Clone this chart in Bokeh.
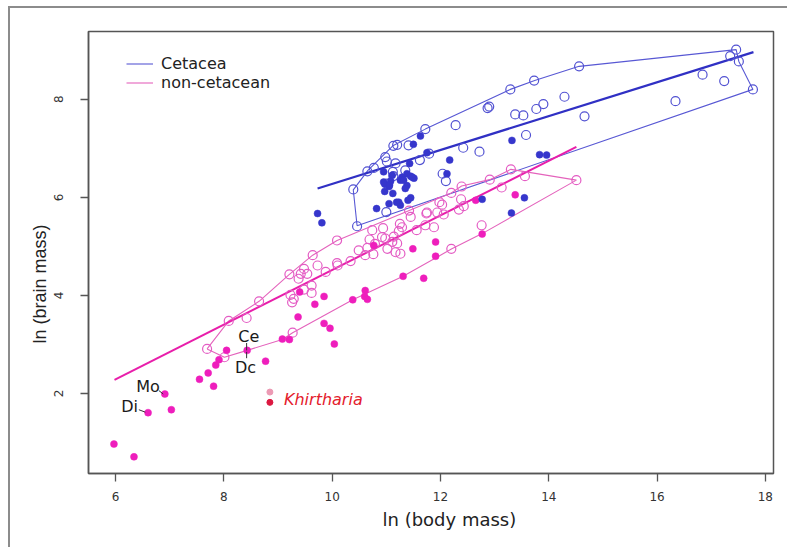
from bokeh.plotting import figure
from bokeh.models import Range1d, FixedTicker, Legend, LegendItem, Title
from bokeh.core.properties import value
from bokeh.embed import file_html
from bokeh.resources import INLINE

# ---------------- data ----------------
cet_open_x = [17.46, 17.35, 17.51, 17.77, 16.84, 17.24, 16.34, 14.56, 13.73, 13.29, 14.29,
              12.87, 12.90, 13.38, 13.53, 13.77, 13.90, 14.66, 13.58, 12.72, 12.28, 11.72,
              11.41, 11.13, 11.20, 12.42, 10.98, 11.01, 11.17, 11.62, 10.65, 10.77, 11.12,
              11.35, 12.04, 12.10, 10.39, 11.00, 10.46, 11.79, 11.13, 11.01]
cet_open_y = [9.01, 8.88, 8.77, 8.20, 8.50, 8.37, 7.96, 8.67, 8.38, 8.20, 8.05,
              7.82, 7.85, 7.69, 7.67, 7.80, 7.90, 7.65, 7.27, 6.93, 7.47, 7.39,
              7.06, 7.05, 7.07, 7.01, 6.82, 6.73, 6.69, 6.76, 6.53, 6.60, 6.52,
              6.55, 6.48, 6.33, 6.16, 5.70, 5.41, 6.89, 6.43, 6.28]

cet_fill_x = [13.32, 13.83, 13.96, 12.17, 12.12, 12.77, 13.55, 13.31, 11.63, 11.50, 11.75,
              11.43, 10.95, 11.38, 11.45, 11.51, 11.29, 11.26, 11.11, 11.08, 11.05, 10.95,
              11.38, 11.35, 11.12, 10.97, 11.45, 11.40, 11.23, 11.26, 11.05, 10.82, 9.73,
              9.81, 11.48, 11.32, 10.97, 11.06, 11.19]
cet_fill_y = [7.16, 6.87, 6.86, 6.76, 6.48, 5.96, 5.99, 5.68, 7.25, 7.08, 6.91,
              6.69, 6.52, 6.48, 6.43, 6.39, 6.41, 6.35, 6.45, 6.33, 6.22, 6.31,
              6.24, 6.18, 6.08, 6.12, 5.99, 5.94, 5.90, 5.84, 5.87, 5.77, 5.67,
              5.48, 6.41, 6.35, 6.27, 6.25, 5.90]

non_open_x = [13.30, 13.56, 14.51, 12.91, 13.13, 12.39, 12.20, 12.38, 11.98, 12.03, 11.75,
              11.94, 12.06, 12.34, 12.43, 11.72, 11.88, 12.76, 12.20, 11.45, 11.42, 11.25,
              11.29, 11.56, 10.74, 10.94, 10.69, 10.79, 10.92, 10.98, 11.14, 11.11, 11.02,
              11.17, 11.26, 11.20, 10.65, 10.76, 10.61, 10.49, 10.34, 10.09, 10.10, 10.09,
              9.88, 9.64, 9.73, 9.21, 9.48, 9.42, 9.54, 9.38, 9.62, 9.48, 9.62, 9.23, 9.29,
              9.26, 8.65, 8.42, 8.09, 7.69, 8.01, 9.27, 11.74, 11.23]
non_open_y = [6.57, 6.43, 6.35, 6.36, 6.20, 6.22, 6.09, 5.96, 5.90, 5.85, 5.69,
              5.69, 5.65, 5.75, 5.82, 5.43, 5.39, 5.43, 4.95, 5.60, 5.73, 5.46,
              5.39, 5.33, 5.33, 5.37, 5.14, 5.05, 5.19, 5.16, 5.20, 5.09, 4.95,
              4.88, 4.85, 5.06, 4.97, 4.84, 4.82, 4.92, 4.70, 4.66, 4.61, 5.12,
              4.48, 4.82, 4.61, 4.43, 4.54, 4.44, 4.44, 4.34, 4.20, 4.12, 4.05, 4.01, 3.93,
              3.86, 3.88, 3.54, 3.48, 2.91, 2.74, 3.24, 5.67, 5.31]

non_fill_x = [12.65, 13.38, 12.77, 11.91, 11.91, 11.49, 11.31, 11.69, 10.61, 10.60, 10.65,
              10.38, 9.85, 9.68, 9.37, 9.85, 9.96, 10.04, 9.08, 9.21, 8.43, 8.05, 7.91,
              7.85, 7.71, 7.55, 7.81, 8.77, 6.91, 6.60, 7.03, 5.97, 6.34, 10.77, 9.40]
non_fill_y = [5.94, 6.05, 5.25, 5.09, 4.80, 4.95, 4.39, 4.35, 4.10, 3.98, 3.92,
              3.91, 3.98, 3.82, 3.56, 3.43, 3.33, 3.01, 3.11, 3.10, 2.88, 2.88, 2.69,
              2.58, 2.42, 2.29, 2.15, 2.66, 1.99, 1.61, 1.67, 0.97, 0.71, 5.02, 4.07]

khir_x = [8.85, 8.85]
khir_y = [2.03, 1.82]
khir_colors = ["#ec9ab4", "#dc1840"]

cet_hull_x = [10.46, 10.39, 10.66, 11.12, 11.72, 13.29, 13.74, 14.56, 17.46, 17.51, 17.77, 10.46]
cet_hull_y = [5.42, 6.15, 6.55, 7.05, 7.39, 8.20, 8.38, 8.67, 9.01, 8.77, 8.20, 5.42]

non_hull_x = [7.69, 8.09, 8.65, 9.21, 9.64, 10.09, 12.20, 12.39, 12.91, 13.30, 14.51,
              12.77, 12.21, 11.31, 10.38, 9.27, 9.08, 8.43, 8.01, 7.69]
non_hull_y = [2.91, 3.48, 3.88, 4.43, 4.82, 5.12, 6.09, 6.23, 6.36, 6.57, 6.35,
              5.26, 4.95, 4.39, 3.91, 3.24, 3.10, 2.88, 2.74, 2.91]

cet_fit_x = [9.73, 17.78]
cet_fit_y = [6.18, 8.96]
non_fit_x = [5.98, 14.51]
non_fit_y = [2.28, 7.03]

lab_text = ["Ce", "Dc", "Mo", "Di"]
lab_x = [8.46, 8.40, 6.60, 6.26]
lab_y = [3.16, 2.53, 2.14, 1.74]
lead_x0 = [8.42, 8.42, 6.80, 6.43]
lead_y0 = [3.03, 2.85, 2.06, 1.67]
lead_x1 = [8.42, 8.42, 6.88, 6.55]
lead_y1 = [2.88, 2.72, 1.99, 1.62]

khir_label = ["Khirtharia"]
khir_lab_x = [9.11]
khir_lab_y = [1.87]

x_title = "ln (body mass)"
y_title = "ln (brain mass)"

x_ticks = [6, 8, 10, 12, 14, 16, 18]
y_ticks = [2, 4, 6, 8]

# ---------------- colours ----------------
BLUE = "#3636cc"
BLUE_OPEN = "#5252d2"
BLUE_HULL = "#5858d4"
PINK = "#ee1ebc"
PINK_OPEN = "#e45cc4"
PINK_HULL = "#e463bc"
PINK_FIT = "#e81eaa"
FONT = "DejaVu Sans"
FONT_NARROW = "Liberation Sans"

p = figure(width=779, height=541, output_backend="svg", toolbar_location=None,
           x_range=Range1d(5.50, 18.15), y_range=Range1d(0.37, 9.38),
           min_border_left=78, min_border_right=16, min_border_top=23, min_border_bottom=76)
p.styles = {"margin-left": "8px", "margin-top": "6px",
            "border-left": "2px solid #8c8c8c", "border-top": "2px solid #8c8c8c"}

p.xgrid.visible = False
p.ygrid.visible = False
p.outline_line_color = "#555555"
p.outline_line_width = 1.5
p.background_fill_color = "white"
p.border_fill_color = "white"

for ax, ticks in ((p.xaxis[0], x_ticks), (p.yaxis[0], y_ticks)):
    ax.ticker = FixedTicker(ticks=ticks)
    ax.minor_tick_line_color = None
    ax.major_tick_in = 0
    ax.major_tick_out = 8
    ax.major_tick_line_color = "#555555"
    ax.major_tick_line_width = 1.3
    ax.axis_line_color = "#555555"
    ax.axis_line_width = 1.5
    ax.major_label_text_font = FONT
    ax.major_label_text_font_size = "12px"
    ax.major_label_text_color = "#333333"

p.xaxis[0].major_label_standoff = 10
p.yaxis[0].major_label_orientation = "vertical"
p.yaxis[0].major_label_standoff = 17

# axis titles as side titles (placed slightly off-centre, as in the reference)
xt = Title(text=x_title, align="left", offset=294, standoff=6,
           text_font=FONT, text_font_size="18px", text_font_style="normal",
           text_color="#222222")
p.add_layout(xt, "below")
yt = Title(text=y_title, align="left", offset=130, standoff=4,
           text_font=FONT_NARROW, text_font_size="18px", text_font_style="normal",
           text_color="#222222")
p.add_layout(yt, "left")

# hulls
cet_hull = p.line(cet_hull_x, cet_hull_y, line_color=BLUE_HULL, line_width=1.1)
non_hull = p.line(non_hull_x, non_hull_y, line_color=PINK_HULL, line_width=1.1)

# regression lines
p.line(cet_fit_x, cet_fit_y, line_color="#3030c4", line_width=2.2)
p.line(non_fit_x, non_fit_y, line_color=PINK_FIT, line_width=2.0)

# points
p.scatter(non_open_x, non_open_y, marker="circle", size=9, fill_color=None,
          line_color=PINK_OPEN, line_width=1.2)
p.scatter(non_fill_x, non_fill_y, marker="circle", size=7, fill_color=PINK,
          line_color=PINK, line_width=0.5)
p.scatter(cet_open_x, cet_open_y, marker="circle", size=9, fill_color=None,
          line_color=BLUE_OPEN, line_width=1.2)
p.scatter(cet_fill_x, cet_fill_y, marker="circle", size=7, fill_color=BLUE,
          line_color=BLUE, line_width=0.5)
p.scatter(khir_x, khir_y, marker="circle", size=6, fill_color=khir_colors,
          line_color=khir_colors)

# labels
p.segment(lead_x0, lead_y0, lead_x1, lead_y1, line_color="#333333", line_width=1)
p.text(lab_x, lab_y, text=lab_text, text_font=value(FONT), text_font_size="16px",
       text_align="center", text_baseline="middle", text_color="#1a1a1a")
p.text(khir_lab_x, khir_lab_y, text=khir_label, text_font=value(FONT), text_font_size="16px",
       text_font_style="italic", text_align="left", text_baseline="middle",
       text_color="#e4202c")

legend = Legend(items=[LegendItem(label="Cetacea", renderers=[cet_hull]),
                       LegendItem(label="non-cetacean", renderers=[non_hull])],
                location=(38, 381))
legend.border_line_color = None
legend.background_fill_alpha = 0
legend.padding = 0
legend.margin = 0
legend.spacing = 0
legend.glyph_width = 27
legend.glyph_height = 19
legend.label_height = 19
legend.label_standoff = 8
legend.label_text_font = FONT
legend.label_text_font_size = "16px"
legend.label_text_color = "#222222"
p.add_layout(legend, "center")

open("out.html", "w").write(file_html(p, INLINE))
